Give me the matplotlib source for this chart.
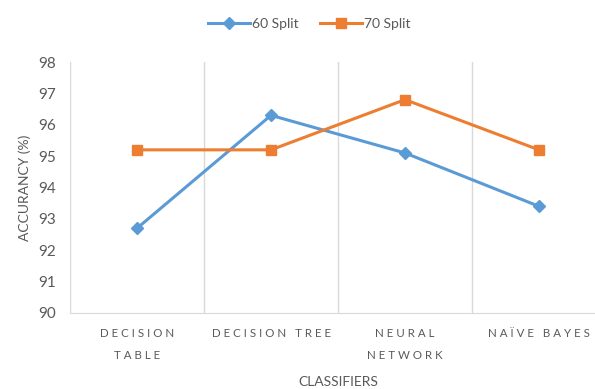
import matplotlib.pyplot as plt
import numpy as np

# dados
classificadores = ["DECISION\nTABLE", "DECISION TREE", "NEURAL\nNETWORK", "NAÏVE BAYES"]
split_60 = [92.7, 96.3, 95.1, 93.4]
split_70 = [95.2, 95.2, 96.8, 95.2]
y_ticks = [90, 91, 92, 93, 94, 95, 96, 97, 98]

azul = "#5B9BD5"
laranja = "#ED7D31"
cinza = "#595959"

plt.rcParams["font.family"] = ["Lato", "DejaVu Sans"]


def espacar(txt):
    # imita o espacamento entre letras do Excel
    linhas = []
    for linha in txt.split("\n"):
        palavras = [" ".join(p) for p in linha.split(" ")]
        linhas.append("   ".join(palavras))
    return "\n".join(linhas)


fig = plt.figure(figsize=(5.95, 3.89), dpi=100)
ax = fig.add_axes([70 / 595, 76 / 389, 536 / 595, 251 / 389])

x = np.arange(len(classificadores))
ax.plot(x, split_60, color=azul, lw=2.2, marker="D", ms=6.5, label="60 Split")
ax.plot(x, split_70, color=laranja, lw=2.2, marker="s", ms=7.5, label="70 Split")

ax.set_xlim(-0.5, len(classificadores) - 0.5)
ax.set_ylim(90, 98)
ax.set_yticks(y_ticks)
ax.set_xticks(x)
ax.set_xticklabels([espacar(c) for c in classificadores], fontsize=8.3,
                   color=cinza, linespacing=2.2)
ax.set_xticks(np.arange(-0.5, len(classificadores), 1), minor=True)
ax.grid(which="minor", axis="x", color="#D9D9D9", lw=1)
ax.tick_params(axis="both", which="both", length=0)
ax.tick_params(axis="y", labelsize=11, labelcolor=cinza, pad=10)
ax.tick_params(axis="x", pad=11)

for lado in ["top", "right", "left"]:
    ax.spines[lado].set_visible(False)
ax.spines["bottom"].set_color("#D9D9D9")

ax.set_xlabel("CLASSIFIERS", fontsize=10, color=cinza, labelpad=11)
ax.set_ylabel("ACCURANCY (%)", fontsize=10, color=cinza, labelpad=5)

fig.legend(loc="upper center", bbox_to_anchor=(0.52, 0.985), ncol=2, frameon=False,
           fontsize=10, handlelength=3, columnspacing=1.5, handletextpad=0.2,
           labelcolor=cinza)

plt.savefig("out.png", dpi=100)
